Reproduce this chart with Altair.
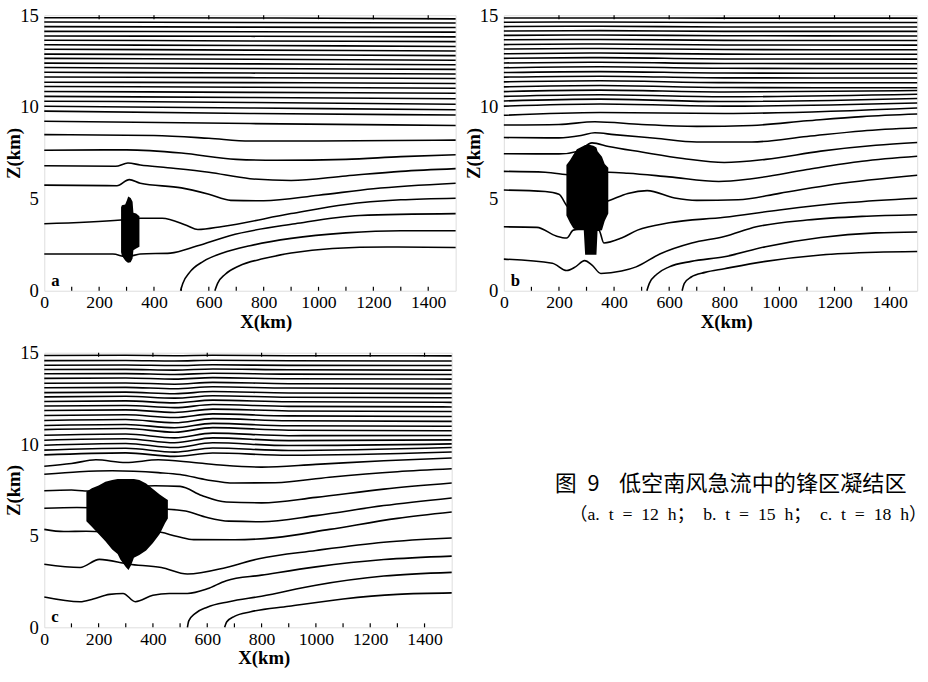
import altair as alt
import pandas as pd

SERIF = "Liberation Serif"
CJK = "Noto Sans CJK SC"

X_TICKS = [0, 200, 400, 600, 800, 1000, 1200, 1400]
Z_TICKS = [0, 5, 10, 15]
MINOR_BOTTOM = [100, 200, 300, 400, 500, 600, 700, 800, 900, 1000, 1100, 1200, 1300, 1400]
MINOR_TOP = [200, 400, 600, 800, 1000, 1200, 1400]

# ---------------- panel a (t = 12 h) ----------------
a_upper_x = [0, 750, 1500]
a_upper_z = [
    [14.86, 14.85, 14.80], [14.63, 14.60, 14.58], [14.38, 14.35, 14.33],
    [14.12, 14.10, 14.08], [13.87, 13.85, 13.82], [13.64, 13.60, 13.56],
    [13.39, 13.35, 13.30], [13.15, 13.10, 13.05], [12.88, 12.85, 12.80],
    [12.65, 12.60, 12.55], [12.39, 12.35, 12.30], [12.15, 12.10, 12.05],
    [11.89, 11.85, 11.80], [11.64, 11.60, 11.55], [11.35, 11.33, 11.28],
    [11.12, 11.08, 11.02], [10.85, 10.80, 10.75], [10.58, 10.52, 10.45],
    [10.32, 10.25, 10.15], [10.04, 9.95, 9.85], [9.78, 9.65, 9.57],
    [9.23, 9.10, 9.00],
]
a_lower = [
    [(0, 8.5), (400, 8.45), (600, 8.3), (750, 8.15), (1000, 8.15), (1500, 8.2)],
    [(0, 7.65), (300, 7.67), (500, 7.5), (700, 7.15), (850, 7.1), (1100, 7.15), (1300, 7.3), (1500, 7.4)],
    [(0, 6.8), (260, 6.78), (305, 6.95), (350, 6.85), (450, 6.7), (600, 6.45), (750, 6.1), (900, 6.0),
     (1100, 6.25), (1300, 6.5), (1500, 6.65)],
    [(0, 5.75), (265, 5.72), (310, 6.05), (350, 5.85), (500, 5.6), (600, 5.25), (680, 4.92), (800, 4.9),
     (1000, 5.2), (1200, 5.55), (1500, 5.85)],
    [(0, 3.65), (280, 3.85), (350, 3.95), (430, 3.95), (520, 3.55), (560, 3.33), (650, 3.5), (900, 4.2),
     (1100, 4.7), (1300, 4.95), (1500, 5.04)],
    [(0, 2.0), (250, 2.0), (300, 1.85), (350, 2.0), (460, 2.05), (556, 2.43), (676, 3.0), (915, 3.65),
     (1150, 4.1), (1500, 4.2)],
    [(497, 0), (505, 0.4), (530, 1.0), (580, 1.6), (650, 2.05), (750, 2.45), (900, 2.85), (1100, 3.15),
     (1300, 3.27), (1500, 3.27)],
    [(622, 0), (632, 0.4), (660, 0.9), (710, 1.35), (800, 1.75), (900, 2.05), (1050, 2.3), (1250, 2.38),
     (1500, 2.35)],
]
a_blob_x = [280, 283, 295, 302, 306, 315, 322, 325, 335, 347]
a_blob_lo = [2.1, 1.9, 1.65, 1.55, 1.52, 1.55, 1.75, 2.2, 2.3, 2.4]
a_blob_hi = [4.55, 4.65, 4.7, 4.95, 5.13, 5.05, 4.85, 4.25, 4.2, 4.05]

# ---------------- panel b (t = 15 h) ----------------
b_upper_x = [0, 350, 800, 1500]
b_upper_z = [
    [14.85, 14.85, 14.84, 14.84], [14.62, 14.63, 14.60, 14.60], [14.38, 14.40, 14.36, 14.36],
    [14.14, 14.16, 14.12, 14.12], [13.90, 13.92, 13.88, 13.87], [13.66, 13.68, 13.63, 13.62],
    [13.40, 13.43, 13.38, 13.37], [13.16, 13.19, 13.13, 13.12], [12.90, 12.94, 12.88, 12.87],
    [12.65, 12.69, 12.62, 12.61], [12.40, 12.44, 12.37, 12.36], [12.14, 12.19, 12.11, 12.10],
    [11.88, 11.93, 11.85, 11.84], [11.63, 11.68, 11.59, 11.58], [11.37, 11.43, 11.33, 11.32],
    [11.10, 11.17, 11.06, 11.05], [10.84, 10.92, 10.82, 10.90], [10.58, 10.67, 10.56, 10.70],
    [10.33, 10.43, 10.30, 10.47], [10.05, 10.17, 10.05, 10.22], [9.55, 9.70, 9.65, 9.95],
]
b_lower = [
    [(0, 9.02), (200, 9.05), (330, 9.2), (500, 9.05), (700, 8.95), (900, 9.0), (1100, 9.25), (1300, 9.48),
     (1500, 9.62)],
    [(0, 8.34), (200, 8.32), (280, 8.45), (330, 8.6), (400, 8.5), (550, 8.3), (700, 8.1), (900, 8.1),
     (1100, 8.4), (1300, 8.7), (1500, 8.87)],
    [(0, 7.46), (200, 7.45), (270, 7.6), (320, 8.05), (380, 7.85), (500, 7.55), (650, 7.2), (800, 6.98),
     (950, 7.15), (1150, 7.6), (1350, 7.92), (1500, 8.07)],
    [(0, 6.5), (150, 6.45), (240, 6.3), (300, 6.25), (380, 6.45), (450, 6.4), (600, 6.2), (780, 5.95),
     (900, 6.1), (1100, 6.6), (1300, 7.05), (1500, 7.32)],
    [(0, 5.48), (150, 5.4), (200, 5.25), (230, 4.6), (250, 4.4), (380, 4.9), (450, 5.3), (520, 5.45),
     (620, 5.05), (700, 4.92), (850, 4.95), (1000, 5.3), (1200, 5.8), (1500, 6.29)],
    [(0, 3.48), (120, 3.45), (190, 2.98), (228, 2.87), (252, 3.3), (300, 3.4), (345, 3.3), (363, 2.6),
     (427, 2.87), (485, 3.3), (600, 3.7), (800, 4.0), (1000, 4.4), (1250, 4.8), (1500, 5.04)],
    [(0, 1.72), (176, 1.5), (228, 1.1), (260, 1.3), (293, 1.64), (320, 1.4), (352, 0.94), (427, 1.07),
     (480, 1.3), (566, 2.0), (682, 2.6), (800, 2.95), (916, 3.48), (1100, 3.85), (1300, 4.05),
     (1500, 4.14)],
    [(519, 0), (528, 0.4), (555, 0.9), (600, 1.3), (680, 1.6), (800, 1.85), (950, 2.4), (1150, 2.9),
     (1350, 3.15), (1500, 3.2)],
    [(647, 0), (655, 0.4), (680, 0.75), (730, 1.0), (800, 1.2), (950, 1.6), (1150, 1.95), (1350, 2.1),
     (1500, 2.14)],
]
b_blob_x = [227, 240, 252, 265, 290, 295, 310, 325, 336, 340, 356, 366, 379]
b_blob_lo = [4.1, 3.7, 3.4, 3.3, 3.3, 1.96, 1.96, 1.96, 1.96, 3.25, 3.3, 3.8, 4.2]
b_blob_hi = [6.85, 7.1, 7.4, 7.7, 7.9, 7.94, 7.95, 7.9, 7.8, 7.6, 7.3, 6.9, 6.7]

# ---------------- panel c (t = 18 h) ----------------
c_upper_x = [0, 300, 480, 620, 900, 1500]
c_upper_z = [
    [14.85, 14.86, 14.84, 14.86, 14.84, 14.83], [14.57, 14.58, 14.55, 14.59, 14.56, 14.55],
    [14.32, 14.33, 14.30, 14.34, 14.31, 14.30], [14.08, 14.09, 14.05, 14.11, 14.07, 14.05],
    [13.85, 13.86, 13.81, 13.88, 13.83, 13.81], [13.60, 13.62, 13.56, 13.64, 13.58, 13.56],
    [13.33, 13.35, 13.28, 13.38, 13.31, 13.29], [13.09, 13.11, 13.03, 13.14, 13.07, 13.04],
    [12.82, 12.85, 12.76, 12.88, 12.80, 12.78], [12.59, 12.62, 12.52, 12.65, 12.57, 12.54],
    [12.34, 12.37, 12.26, 12.41, 12.32, 12.29], [12.09, 12.12, 12.00, 12.17, 12.07, 12.04],
    [11.84, 11.88, 11.74, 11.92, 11.82, 11.79], [11.57, 11.61, 11.46, 11.66, 11.55, 11.52],
    [11.30, 11.35, 11.18, 11.40, 11.28, 11.25], [11.03, 11.08, 10.90, 11.14, 11.01, 10.98],
    [10.80, 10.86, 10.66, 10.91, 10.77, 10.74], [10.49, 10.56, 10.35, 10.61, 10.47, 10.48],
    [10.22, 10.30, 10.08, 10.35, 10.20, 10.24], [9.95, 10.04, 9.82, 10.08, 9.93, 10.02],
    [9.68, 9.78, 9.57, 9.80, 9.66, 9.82], [9.42, 9.53, 9.34, 9.52, 9.40, 9.58],
]
c_lower = [
    [(0, 8.8), (100, 8.95), (190, 9.15), (300, 9.0), (420, 9.15), (550, 9.0), (660, 8.85), (800, 8.75),
     (1000, 8.9), (1250, 9.1), (1500, 9.25)],
    [(0, 8.36), (130, 8.5), (250, 8.55), (420, 8.45), (500, 8.35), (600, 8.05), (700, 7.88), (850, 7.9),
     (1050, 8.2), (1300, 8.5), (1500, 8.66)],
    [(0, 7.46), (100, 7.5), (150, 7.45), (300, 7.6), (407, 7.73), (500, 7.7), (580, 7.2), (670, 6.85),
     (800, 6.8), (1000, 7.1), (1250, 7.55), (1500, 7.88)],
    [(0, 6.5), (120, 6.55), (300, 6.5), (455, 6.45), (520, 6.35), (600, 6.0), (680, 5.8), (800, 5.77),
     (1000, 6.1), (1250, 6.65), (1500, 7.07)],
    [(0, 5.35), (72, 5.23), (155, 5.25), (250, 5.2), (407, 5.23), (490, 4.96), (550, 4.79), (700, 4.78),
     (850, 4.9), (1050, 5.35), (1300, 5.95), (1500, 6.3)],
    [(0, 3.45), (132, 3.27), (203, 3.71), (311, 3.45), (431, 3.27), (527, 2.91), (670, 3.27), (790, 3.75),
     (1000, 4.2), (1250, 4.65), (1500, 4.88)],
    [(0, 1.66), (132, 1.4), (180, 1.55), (240, 1.8), (290, 1.85), (335, 1.4), (400, 1.75), (460, 1.85),
     (527, 1.85), (600, 2.1), (670, 2.55), (800, 2.85), (1000, 3.3), (1250, 3.7), (1500, 3.89)],
    [(527, 0), (532, 0.35), (555, 0.75), (600, 1.1), (680, 1.4), (800, 1.7), (1000, 2.3), (1250, 2.8),
     (1500, 3.0)],
    [(664, 0), (672, 0.3), (700, 0.6), (760, 0.85), (900, 1.15), (1100, 1.55), (1300, 1.8), (1500, 1.88)],
]
c_blob_x = [155, 175, 200, 225, 250, 270, 280, 300, 310, 320, 330, 350, 375, 400, 425, 445, 455]
c_blob_lo = [5.8, 5.5, 5.1, 4.7, 4.25, 4.0, 3.7, 3.3, 3.13, 3.4, 3.8, 3.95, 4.2, 4.6, 5.1, 5.7, 5.95]
c_blob_hi = [7.4, 7.6, 7.75, 7.95, 8.05, 8.1, 8.1, 8.1, 8.1, 8.1, 8.1, 8.05, 7.85, 7.55, 7.25, 7.05, 6.95]

caption_title = "图\u20029"
caption_main = "低空南风急流中的锋区凝结区"
caption_sub = ("（a.\u2002t\u2002=\u200212\u2002h；\u2002b.\u2002t\u2002=\u200215\u2002h；"
               "\u2002c.\u2002t\u2002=\u200218\u2002h）")


def lines_df(upper_x, upper_z, lower):
    rows = []
    lid = 0
    for zs in upper_z:
        for i, (x, z) in enumerate(zip(upper_x, zs)):
            rows.append({"line": lid, "o": i, "x": x, "z": z})
        lid += 1
    for pts in lower:
        for i, (x, z) in enumerate(pts):
            rows.append({"line": lid, "o": i, "x": x, "z": z})
        lid += 1
    return pd.DataFrame(rows)


def panel(ldf, bx, blo, bhi, letter, w, h, extra=None):
    xs = alt.Scale(domain=[0, 1500], nice=False, zero=False)
    ys = alt.Scale(domain=[0, 15], nice=False, zero=False)
    xaxis = alt.Axis(values=X_TICKS, format="d", title="X(km)", ticks=False, domain=False, grid=False,
                     labelFont=SERIF, labelFontSize=18, labelColor="black", labelPadding=3,
                     labelOverlap=False, labelFlush=False,
                     titleFont=SERIF, titleFontSize=19, titleFontWeight="bold", titleColor="black",
                     titleX=w / 2 + 16, titleY=41, titleBaseline="bottom", titleAlign="center")
    yaxis = alt.Axis(values=Z_TICKS, format="d", title="Z(km)", ticks=False, domain=False, grid=False,
                     labelFont=SERIF, labelFontSize=19, labelColor="black", labelPadding=6,
                     labelOverlap=False, labelFlush=False,
                     titleFont=SERIF, titleFontSize=19, titleFontWeight="bold", titleColor="black",
                     titleX=-21, titleY=h / 2, titleAngle=270, titleBaseline="bottom", titleAlign="center")
    X = alt.X("x:Q", scale=xs, axis=xaxis)
    Y = alt.Y("z:Q", scale=ys, axis=yaxis)
    lines = alt.Chart(ldf).mark_line(color="black", strokeWidth=1.6, interpolate="monotone").encode(
        x=X, y=Y, detail="line:N", order="o:Q")
    bdf = pd.DataFrame({"x": bx, "z": blo, "z2": bhi})
    blob = alt.Chart(bdf).mark_area(color="black", opacity=1).encode(x=X, y=Y, y2="z2:Q")
    tb = alt.Chart(pd.DataFrame({"x": MINOR_BOTTOM})).mark_rule(color="black", strokeWidth=1.2).encode(
        x=X, y=alt.value(h), y2=alt.value(h - 4))
    tt = alt.Chart(pd.DataFrame({"x": MINOR_TOP})).mark_rule(color="black", strokeWidth=1.2).encode(
        x=X, y=alt.value(0), y2=alt.value(4))
    lab = alt.Chart(pd.DataFrame({"t": [letter]})).mark_text(
        font=SERIF, fontSize=17, fontWeight="bold", align="left", baseline="alphabetic", color="black"
    ).encode(x=alt.value(7), y=alt.value(h - 5), text="t:N")
    layers = [lines, blob, tb, tt, lab]
    if extra:
        layers += extra
    return alt.layer(*layers).properties(width=w, height=h)


cap1 = alt.Chart(pd.DataFrame({"t": [caption_title]})).mark_text(
    font=CJK, fontSize=22, align="left", baseline="middle", color="black"
).encode(x=alt.value(519), y=alt.value(133), text="t:N")
cap2 = alt.Chart(pd.DataFrame({"t": [caption_main]})).mark_text(
    font=CJK, fontSize=22.5, align="left", baseline="middle", color="black"
).encode(x=alt.value(584), y=alt.value(133), text="t:N")
cap3 = alt.Chart(pd.DataFrame({"t": [caption_sub]})).mark_text(
    font=SERIF + ", " + CJK, fontSize=18, align="left", baseline="middle", color="black"
).encode(x=alt.value(534), y=alt.value(165), text="t:N")

pa = panel(lines_df(a_upper_x, a_upper_z, a_lower), a_blob_x, a_blob_lo, a_blob_hi, "a", 418, 280)
pb = panel(lines_df(b_upper_x, b_upper_z, b_lower), b_blob_x, b_blob_lo, b_blob_hi, "b", 420, 280)
pc = panel(lines_df(c_upper_x, c_upper_z, c_lower), c_blob_x, c_blob_lo, c_blob_hi, "c", 414, 279,
           extra=[cap1, cap2, cap3])

chart = alt.vconcat(alt.hconcat(pa, pb, spacing=4), pc, spacing=11).properties(
    padding={"left": 4, "top": 0, "right": 0, "bottom": 0}
).configure_view(stroke="black", strokeWidth=1.5).configure(background="white")

chart.save("out.html", embed_options={"renderer": "svg", "actions": False})
